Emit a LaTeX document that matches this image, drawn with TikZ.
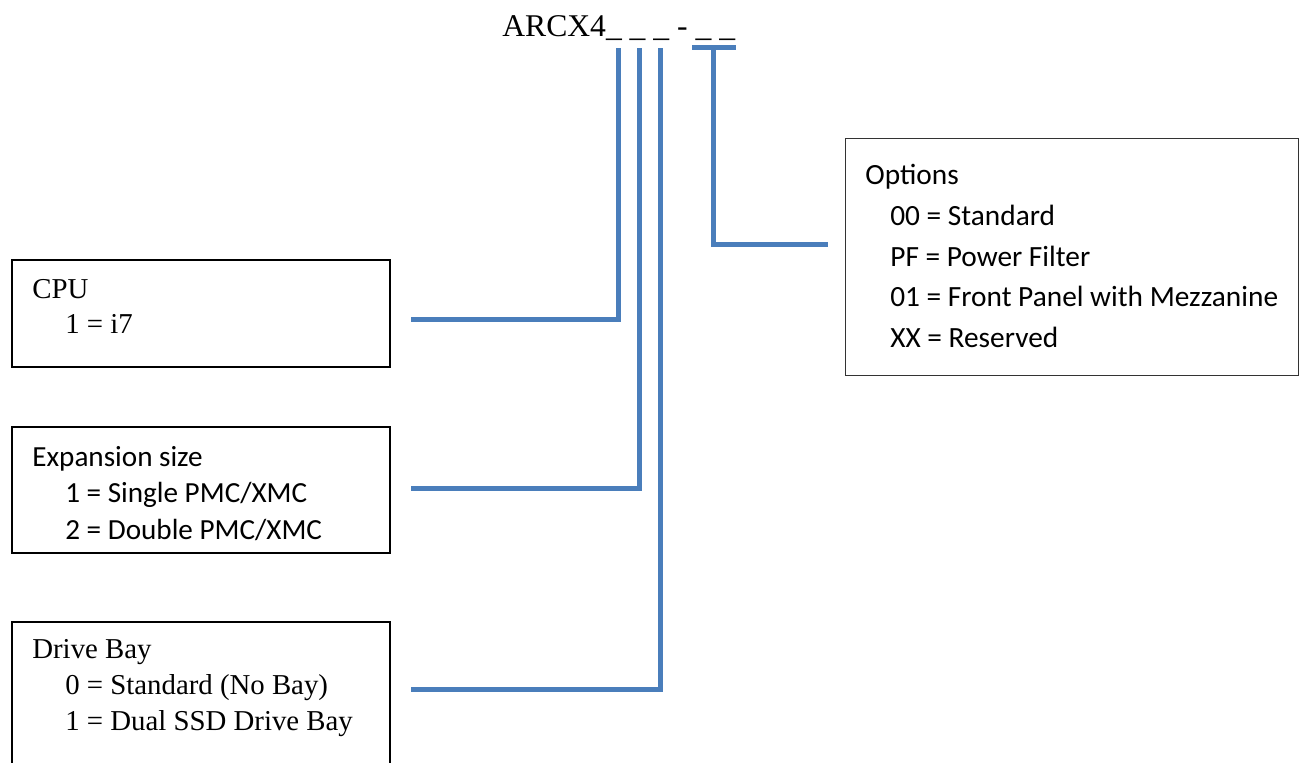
\documentclass[tikz,border=0pt]{standalone}
\usepackage{fontspec}
\setmainfont{Liberation Serif}
\newfontfamily\calibri{Carlito}
\usetikzlibrary{positioning}

\definecolor{linkblue}{RGB}{74,126,187}
\tikzset{
  codebox/.style={draw=black, line width=1pt, minimum width=7.56cm, inner sep=0pt, anchor=north west},
  optbox/.style={draw=black!80, line width=0.8pt, minimum width=9.06cm, minimum height=4.74cm, inner sep=0pt, anchor=north west},
  serifnote/.style={anchor=north west, inner sep=0pt, align=left, font=\fontsize{16.4}{19.8}\selectfont},
  sansnote/.style={anchor=north west, inner sep=0pt, align=left, font=\calibri\fontsize{16.6}{20.7}\selectfont},
  link/.style={draw=linkblue, line width=0.1cm},
}
\newcommand{\ind}{\hspace*{0.66cm}}
\newcommand{\oind}{\hspace*{0.5cm}}

\begin{document}
\begin{tikzpicture}[x=0.02cm, y=-0.02cm]
  \useasboundingbox (0,0) rectangle (1299,762);

  % ── Part number ──
  \node[font=\fontsize{18}{22}\selectfont, anchor=base west, inner sep=0pt] (partno) at (502,36)
    {ARCX4\_ \_ \_ - \_ \_};

  % ── Left boxes ──
  \node[codebox, minimum height=2.14cm] (cpubox) at (11,259) {};
  \node[serifnote] (cputext) at ([xshift=0.42cm, yshift=-0.40cm]cpubox.north west)
    {CPU\\\ind 1 = i7};

  \node[codebox, minimum height=2.52cm] (expbox) at (11,426) {};
  \node[sansnote] (exptext) at ([xshift=0.42cm, yshift=-0.40cm]expbox.north west)
    {Expansion size\\\ind 1 = Single PMC/XMC\\\ind 2 = Double PMC/XMC};

  \node[codebox, minimum height=3.08cm] (drivebox) at (11,621) {};
  \node[serifnote, font=\fontsize{16.4}{20.6}\selectfont] (drivetext) at ([xshift=0.42cm, yshift=-0.36cm]drivebox.north west)
    {Drive Bay\\\ind 0 = Standard (No Bay)\\\ind 1 = Dual SSD Drive Bay};

  % ── Options box ──
  \node[optbox] (optbox) at (845,138) {};
  \node[sansnote, font=\calibri\fontsize{16.7}{23.2}\selectfont] (opttext) at ([xshift=0.40cm, yshift=-0.52cm]optbox.north west)
    {Options\\\oind 00 = Standard\\\oind PF = Power Filter\\\oind 01 = Front Panel with Mezzanine\\\oind XX = Reserved};

  % ── Connector ends ──
  \coordinate (cpuin)   at (411,319);
  \coordinate (expin)   at (411,488);
  \coordinate (drivein) at (411,689);
  \coordinate (slot1)   at (618,48);
  \coordinate (slot2)   at (639,48);
  \coordinate (slot3)   at (660,48);
  \coordinate (optL)    at (692,47.5);
  \coordinate (optR)    at (736,47.5);
  \coordinate (optstem) at (713,47.5);
  \coordinate (optin)   at (828,244);

  % ── Connectors ──
  \draw[link] (cpuin) -| (slot1);
  \draw[link] (expin) -| (slot2);
  \draw[link] (drivein) -| (slot3);
  \draw[link] (optL) -- (optR);
  \draw[link] (optstem) |- (optin);
\end{tikzpicture}
\end{document}
